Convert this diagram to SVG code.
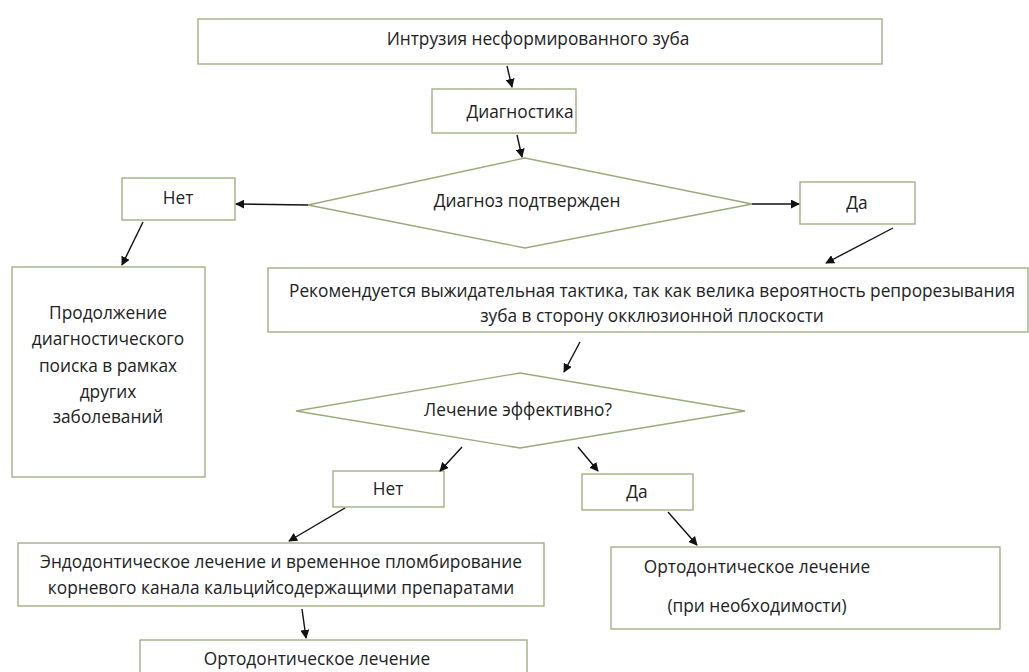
<svg xmlns="http://www.w3.org/2000/svg" width="1029" height="672" viewBox="0 0 1029 672">
<defs>
<marker id="ah" viewBox="0 0 10 10" refX="9" refY="5" markerWidth="9" markerHeight="9" markerUnits="userSpaceOnUse" orient="auto">
<path d="M0,0 L10,5 L0,10 z" fill="#111"/>
</marker>
<style>
.b{fill:#fff;stroke:#9aab7a;stroke-width:1.3}
.t{font-family:"Open Sans","Liberation Sans",Arial,sans-serif;font-size:17.3px;fill:#222;text-anchor:middle;dominant-baseline:central}
.c line{stroke:#111;stroke-width:1.4;marker-end:url(#ah)}
</style>
</defs>
<rect width="1029" height="672" fill="#fff"/>
<g id="n_intr"><rect class="b" x="198" y="19" width="684" height="45"/><text class="t" x="538" y="38">Интрузия несформированного зуба</text></g>
<g id="n_diag"><rect class="b" x="432" y="89" width="144" height="44"/><text class="t" x="520" y="111">Диагностика</text></g>
<g id="n_d1"><polygon class="b" points="308,205 525,158 752,204 525,248"/><text class="t" x="527" y="200">Диагноз подтвержден</text></g>
<g id="n_net1"><rect class="b" x="122" y="178" width="113" height="42"/><text class="t" x="178" y="197">Нет</text></g>
<g id="n_da1"><rect class="b" x="800" y="182" width="115" height="42"/><text class="t" x="857" y="202">Да</text></g>
<g id="n_prod"><rect class="b" x="12" y="267" width="193" height="210"/>
<text class="t" x="108" y="312">Продолжение</text>
<text class="t" x="108" y="338">диагностического</text>
<text class="t" x="108" y="365">поиска в рамках</text>
<text class="t" x="108" y="391">других</text>
<text class="t" x="108" y="416">заболеваний</text></g>
<g id="n_rek"><rect class="b" x="268" y="268" width="760" height="64"/>
<text class="t" x="652" y="290">Рекомендуется выжидательная тактика, так как велика вероятность репрорезывания</text>
<text class="t" x="652" y="315">зуба в сторону окклюзионной плоскости</text></g>
<g id="n_d2"><polygon class="b" points="296,411 520,373 745,411 520,448"/><text class="t" x="518" y="409">Лечение эффективно?</text></g>
<g id="n_net2"><rect class="b" x="333" y="471" width="111" height="36"/><text class="t" x="388" y="488">Нет</text></g>
<g id="n_da2"><rect class="b" x="582" y="474" width="111" height="36"/><text class="t" x="637" y="491">Да</text></g>
<g id="n_endo"><rect class="b" x="18" y="543" width="526" height="63"/>
<text class="t" x="281" y="561">Эндодонтическое лечение и временное пломбирование</text>
<text class="t" x="281" y="587">корневого канала кальцийсодержащими препаратами</text></g>
<g id="n_orto1"><rect class="b" x="611" y="547" width="389" height="82"/>
<text class="t" x="757" y="566">Ортодонтическое лечение</text>
<text class="t" x="757" y="605">(при необходимости)</text></g>
<g id="n_orto2"><rect class="b" x="140" y="640" width="387" height="60"/><text class="t" x="317" y="658">Ортодонтическое лечение</text></g>
<g id="connectors" class="c">
<line x1="507" y1="66" x2="512" y2="87"/>
<line x1="517" y1="135" x2="522" y2="157"/>
<line x1="308" y1="205" x2="236" y2="204"/>
<line x1="752" y1="204" x2="799" y2="204"/>
<line x1="143" y1="222" x2="122" y2="265"/>
<line x1="893" y1="228" x2="826" y2="263"/>
<line x1="580" y1="342" x2="564" y2="372"/>
<line x1="462" y1="447" x2="440" y2="471"/>
<line x1="578" y1="447" x2="598" y2="471"/>
<line x1="345" y1="508" x2="289" y2="541"/>
<line x1="668" y1="512" x2="697" y2="545"/>
<line x1="302" y1="609" x2="306" y2="638"/>
</g>
</svg>
